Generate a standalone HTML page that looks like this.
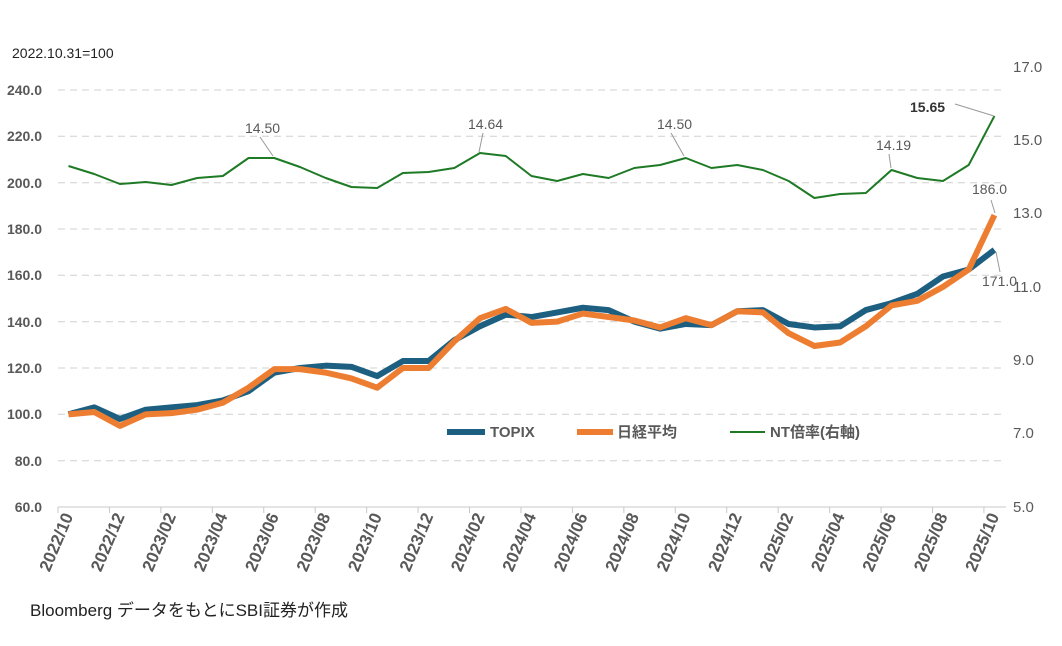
<!DOCTYPE html>
<html><head><meta charset="utf-8"><style>
body{margin:0;background:#fff}
svg text{font-family:"Liberation Sans","Noto Sans CJK JP",sans-serif;fill:#595959}
</style></head><body>
<svg width="1062" height="641" viewBox="0 0 1062 641" xmlns="http://www.w3.org/2000/svg">
<text x="12" y="58" font-size="14" style="fill:#222">2022.10.31=100</text>
<g id="grid" stroke="#d0d0d0" stroke-width="1" stroke-dasharray="7,5">
<line x1="58" x2="1006" y1="90" y2="90"/><line x1="58" x2="1006" y1="136.3" y2="136.3"/>
<line x1="58" x2="1006" y1="182.7" y2="182.7"/><line x1="58" x2="1006" y1="229" y2="229"/>
<line x1="58" x2="1006" y1="275.3" y2="275.3"/><line x1="58" x2="1006" y1="321.7" y2="321.7"/>
<line x1="58" x2="1006" y1="368" y2="368"/><line x1="58" x2="1006" y1="414.3" y2="414.3"/>
<line x1="58" x2="1006" y1="460.7" y2="460.7"/>
</g>
<line x1="58" x2="1006" y1="507" y2="507" stroke="#c8c8c8"/>
<g font-size="14" font-weight="bold" text-anchor="end">
<text x="42" y="95">240.0</text><text x="42" y="141">220.0</text><text x="42" y="188">200.0</text>
<text x="42" y="234">180.0</text><text x="42" y="280">160.0</text><text x="42" y="327">140.0</text>
<text x="42" y="373">120.0</text><text x="42" y="419">100.0</text><text x="42" y="466">80.0</text>
<text x="42" y="512">60.0</text>
</g>
<g font-size="15" text-anchor="start">
<text x="1013" y="72">17.0</text><text x="1013" y="145">15.0</text><text x="1013" y="218">13.0</text>
<text x="1013" y="292">11.0</text><text x="1013" y="365">9.0</text><text x="1013" y="438">7.0</text>
<text x="1013" y="512">5.0</text>
</g>
<g id="xt"></g>
<g id="lines"></g>
<g font-size="14">
<text x="245" y="133">14.50</text><line x1="260" y1="137" x2="273" y2="156" stroke="#999"/>
<text x="468" y="129">14.64</text><line x1="483" y1="133" x2="479" y2="152" stroke="#999"/>
<text x="657" y="129">14.50</text><line x1="671" y1="133" x2="684" y2="156" stroke="#999"/>
<text x="876" y="150">14.19</text><line x1="889" y1="154" x2="891" y2="168" stroke="#999"/>
<text x="910" y="112" font-weight="bold" style="fill:#333">15.65</text><line x1="955" y1="104" x2="994" y2="116" stroke="#999"/>
<text x="972" y="194">186.0</text><line x1="991" y1="200" x2="995" y2="213" stroke="#999"/>
<text x="982" y="286">171.0</text><line x1="996" y1="252" x2="1000" y2="272" stroke="#999"/>
</g>
<g font-size="15" font-weight="bold">
<line x1="447" x2="485" y1="432" y2="432" stroke="#1d5f80" stroke-width="6"/><text x="490" y="437">TOPIX</text>
<line x1="577" x2="613" y1="432" y2="432" stroke="#ed7d31" stroke-width="6"/><text x="617" y="437">日経平均</text>
<line x1="730" x2="765" y1="432" y2="432" stroke="#1e7a25" stroke-width="2"/><text x="770" y="437">NT倍率(右軸)</text>
</g>
<text x="30" y="616" font-size="17" style="fill:#222">Bloomberg データをもとにSBI証券が作成</text>
</svg>
<script>
var svg=document.querySelector('svg'),ns='http://www.w3.org/2000/svg';
function X(i){return 68.5+i*25.72}
function Y(v){return 507-(v-60)*2.3167}
var topix=[100,103,98,102,103,104,106,110,118,120,121,120.5,116.5,123,123,132,138,143,142,144,146,145,140,137,139,138.5,144.5,145,139,137.5,138,145,148,152,159.5,162.5,171];
var nk=[100,101,95,100,100.5,102,105,111.5,119.5,119.5,118,115.5,111.5,120,120,131.5,141.5,145.5,139.5,140,143.5,142,140.5,137.5,141.5,138.5,144.5,144,135,129.5,131,138,147,149,155,162.5,186];
var nt=[166,174,184,182,185,178,176,158,158,167,178,187,188,173,172,168,153,156,176,181,174,178,168,165,158,168,165,170,181,198,194,193,170,178,181,165,116];
function pl(pts,c,w){var p=document.createElementNS(ns,'polyline');p.setAttribute('points',pts.join(' '));p.setAttribute('fill','none');p.setAttribute('stroke',c);p.setAttribute('stroke-width',w);p.setAttribute('stroke-linejoin','round');document.getElementById('lines').appendChild(p);}
pl(topix.map((v,i)=>X(i)+','+Y(v)),'#1d5f80',6);
pl(nk.map((v,i)=>X(i)+','+Y(v)),'#ed7d31',6);
pl(nt.map((v,i)=>X(i)+','+v),'#1e7a25',2);
var xt=document.getElementById('xt');
for(var k=0;k<=18;k++){var i=k*2;var tx=58+i*25.72;
var l=document.createElementNS(ns,'line');l.setAttribute('x1',tx);l.setAttribute('x2',tx);l.setAttribute('y1',507);l.setAttribute('y2',513);l.setAttribute('stroke','#c8c8c8');xt.appendChild(l);
var y=2022+Math.floor((9+i)/12),m=(9+i)%12+1;
var t=document.createElementNS(ns,'text');t.textContent=y+'/'+(m<10?'0'+m:m);
t.setAttribute('font-size','17');t.setAttribute('font-weight','bold');t.setAttribute('text-anchor','end');
var ax=X(i)+5,ay=516;t.setAttribute('x',ax);t.setAttribute('y',ay);t.setAttribute('transform','rotate(-67 '+ax+' '+ay+')');xt.appendChild(t);}
</script>
</body></html>
